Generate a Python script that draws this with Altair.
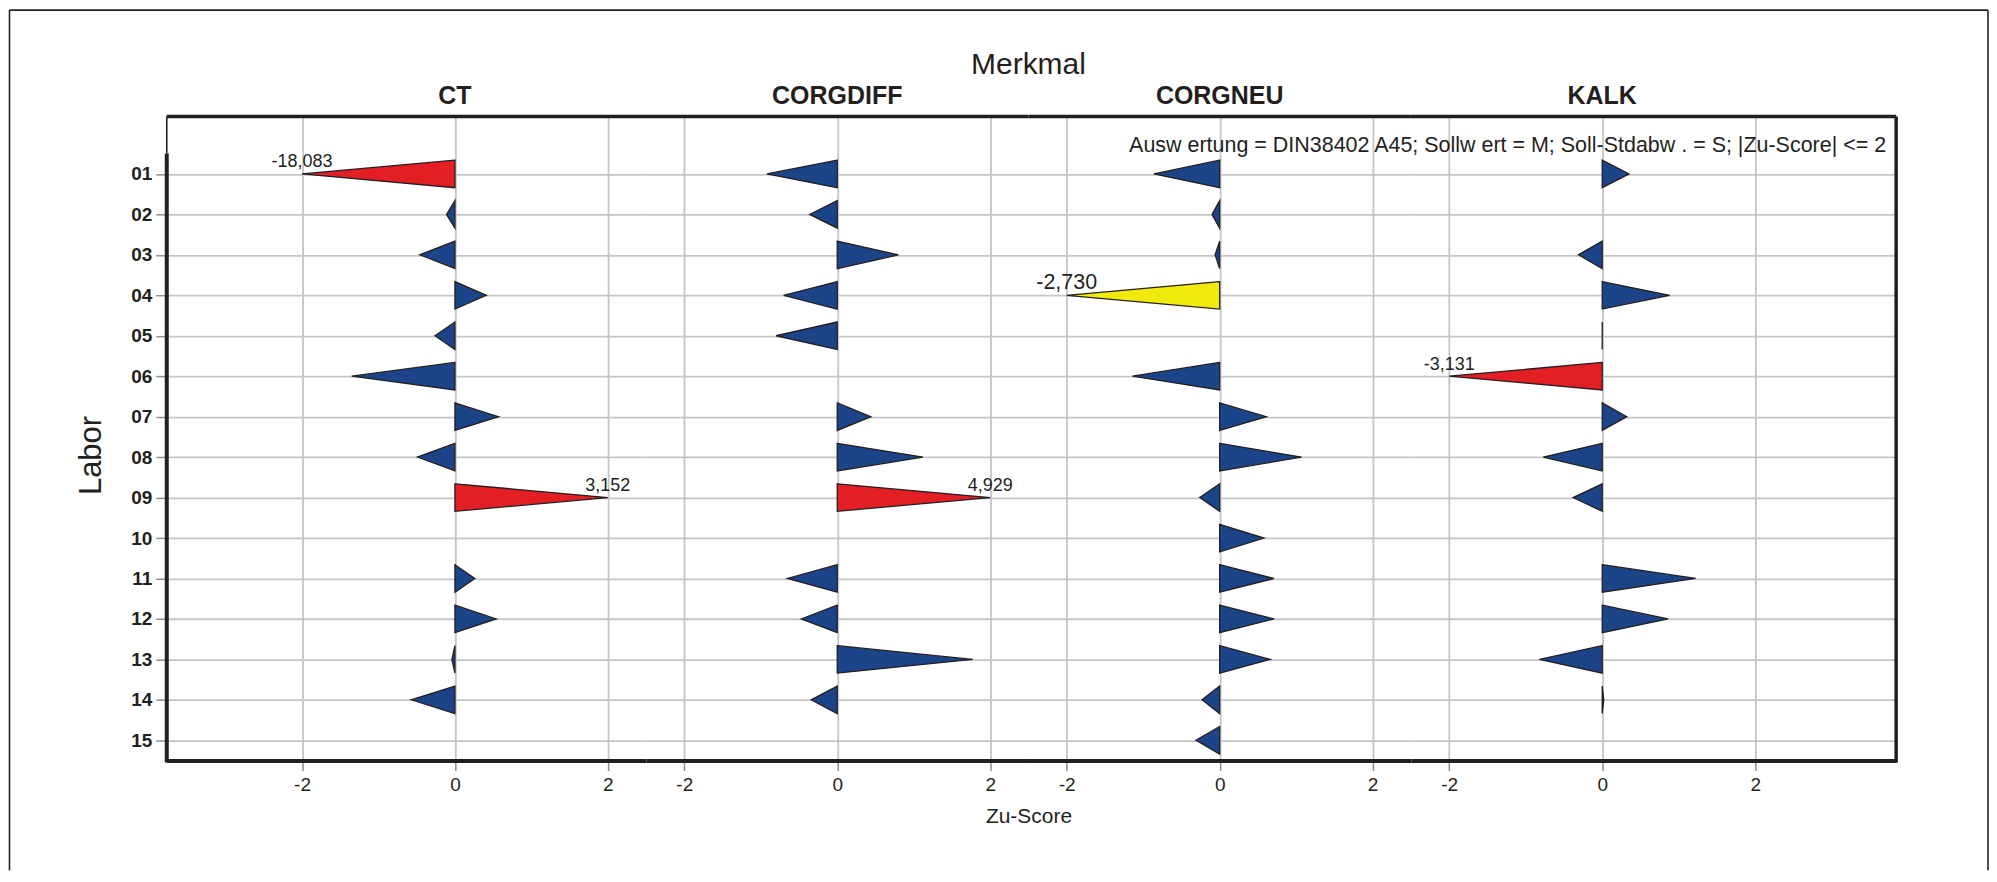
import json
import altair as alt
import pandas as pd

# ---------------- data ----------------
labs = ["01", "02", "03", "04", "05", "06", "07", "08", "09", "10", "11", "12", "13", "14", "15"]
panels = ["CT", "CORGDIFF", "CORGNEU", "KALK"]
ct = [-18.083, -0.11, -0.46, 0.41, -0.26, -1.35, 0.57, -0.49, 3.152, None, 0.26, 0.54, -0.04, -0.57, None]
corgdiff = [-0.92, -0.36, 0.80, -0.70, -0.80, None, 0.44, 1.12, 4.929, None, -0.65, -0.47, 1.77, -0.34, None]
corgneu = [-0.86, -0.10, -0.06, -2.730, None, -1.14, 0.61, 1.07, -0.26, 0.58, 0.71, 0.71, 0.66, -0.23, -0.31]
kalk = [0.35, None, -0.31, 0.88, 0.0, -3.131, 0.32, -0.77, -0.38, None, 1.22, 0.86, -0.82, 0.02, None]
series = {"CT": ct, "CORGDIFF": corgdiff, "CORGNEU": corgneu, "KALK": kalk}

rows = []
for p in panels:
    for i, v in enumerate(series[p]):
        if v is not None:
            rows.append({"panel": p, "row": i + 1, "z": v})
df = pd.DataFrame(rows)

# ---------------- style ----------------
FONT = "Liberation Sans"
DARK = "#231f20"
GRID = "#c5c5c9"
TICK = "#8f8f93"
BLUE, YELLOW, RED = "#1c4489", "#f2ea0c", "#e31e24"
HALF = 0.34
H = 645
widths = {"CT": 480, "CORGDIFF": 383, "CORGNEU": 383, "KALK": 486}
domains = {"CT": [-3.77, 2.5], "CORGDIFF": [-2.5, 2.5], "CORGNEU": [-2.5, 2.5], "KALK": [-2.5, 3.84]}
ydom = [-0.42, 15.5]
label_expr = json.dumps(labs) + "[datum.value - 1]"
one = pd.DataFrame({"a": [0]})


def xaxis(p):
    kw = dict(values=[-2, 0, 2], grid=True, gridColor=GRID, gridWidth=1.8,
              domain=True, domainColor=DARK, domainWidth=4,
              ticks=True, tickColor=TICK, tickSize=10, tickWidth=1.5,
              labelExpr="'' + datum.value", labelFontSize=19, labelColor=DARK,
              labelPadding=5, labelFont=FONT)
    if p == "CORGDIFF":
        kw.update(title="Zu-Score", titleFontSize=21, titleFontWeight="normal",
                  titleColor=DARK, titleX=widths[p], titleY=62, titleAlign="center",
                  titleBaseline="alphabetic", titleFont=FONT)
    else:
        kw.update(title=None)
    return alt.Axis(**kw)


def yaxis(p):
    if p == "CT":
        return alt.Axis(values=list(range(1, 16)), labelExpr=label_expr, grid=True,
                        gridColor=GRID, gridWidth=1.8, domain=False, ticks=True,
                        tickSize=11, tickColor=TICK, tickWidth=1.5, labelFontSize=19,
                        labelFontWeight="bold", labelColor=DARK, labelPadding=4,
                        labelFont=FONT, title="Labor", titleFontSize=31,
                        titleFontWeight="normal", titleColor=DARK, titleX=-66,
                        titleY=339, titleAngle=270, titleAlign="center",
                        titleBaseline="alphabetic", titleFont=FONT)
    return alt.Axis(values=list(range(1, 16)), grid=True, gridColor=GRID, gridWidth=1.8,
                    domain=False, ticks=False, labels=False, title=None)


def make_panel(p):
    W = widths[p]
    xs = alt.Scale(domain=domains[p], nice=False, zero=False)
    ys = alt.Scale(domain=ydom, nice=False, zero=False, reverse=True)
    base = alt.Chart(df).transform_filter(alt.datum.panel == p).transform_calculate(
        cls="abs(datum.z) > 3 ? 'r' : (abs(datum.z) > 2 ? 'g' : 'b')",
        tip="clamp(datum.z, -2, 2)",
    )
    tri = base.transform_calculate(k="[-1, 0, 1]").transform_flatten(["k"]).transform_calculate(
        yy=f"datum.row + datum.k * {HALF}",
        xx="datum.k == 0 ? datum.tip : 0",
        x0="0",
    ).mark_area(orient="horizontal", stroke=DARK, strokeWidth=1.3, strokeJoin="miter",
                opacity=1).encode(
        x=alt.X("xx:Q", scale=xs, axis=xaxis(p), stack=None),
        x2="x0:Q",
        y=alt.Y("yy:Q", scale=ys, axis=yaxis(p)),
        detail="row:N",
        fill=alt.Fill("cls:N", scale=alt.Scale(domain=["b", "g", "r"], range=[BLUE, YELLOW, RED]),
                      legend=None),
    )
    lbl = base.transform_filter("abs(datum.z) > 2").transform_calculate(
        txt="(datum.z < 0 ? '-' : '') + replace(format(abs(datum.z), '.3f'), '.', ',')"
    ).mark_text(align="center", baseline="alphabetic", dy=-6.5, font=FONT, color=DARK).encode(
        x=alt.X("tip:Q", scale=xs),
        y=alt.Y("row:Q", scale=ys),
        text="txt:N",
        size=alt.Size("cls:N", scale=alt.Scale(domain=["r", "g"], range=[18, 21.5]), legend=None),
    )
    ptitle = alt.Chart(one).mark_text(fontSize=25, fontWeight="bold", font=FONT, color=DARK,
                                      align="center", baseline="alphabetic").encode(
        x=alt.X(datum=0, scale=xs), y=alt.value(-13), text=alt.value(p))
    top = alt.Chart(one).mark_rule(color=DARK, strokeWidth=3.5).encode(
        x=alt.value(0), x2=alt.value(W), y=alt.value(0))
    layers = [tri, lbl, ptitle, top]
    if p == "CT":
        layers += [
            alt.Chart(one).mark_rule(color=DARK, strokeWidth=1.6).encode(
                x=alt.value(0), y=alt.value(0), y2=alt.value(37)),
            alt.Chart(one).mark_rule(color=DARK, strokeWidth=4).encode(
                x=alt.value(0), y=alt.value(37), y2=alt.value(H + 2)),
            # outer figure frame
            alt.Chart(one).mark_rule(color=DARK, strokeWidth=1.6).encode(
                x=alt.value(-157.5), y=alt.value(-106.5), y2=alt.value(755)),
            alt.Chart(one).mark_rule(color=DARK, strokeWidth=1.6).encode(
                x=alt.value(-157.5), x2=alt.value(1824), y=alt.value(-106.5)),
            alt.Chart(one).mark_rule(color=DARK, strokeWidth=1.6).encode(
                x=alt.value(1824), y=alt.value(-106.5), y2=alt.value(755)),
        ]
    if p == "CORGDIFF":
        layers.append(alt.Chart(one).mark_text(fontSize=30, font=FONT, color=DARK, align="center",
                                               baseline="alphabetic").encode(
            x=alt.value(W), y=alt.value(-43), text=alt.value("Merkmal")))
    if p == "KALK":
        layers += [
            alt.Chart(one).mark_rule(color=DARK, strokeWidth=3.5).encode(
                x=alt.value(W), y=alt.value(0), y2=alt.value(H + 2)),
            alt.Chart(one).mark_text(fontSize=21.5, font=FONT, color=DARK, align="right",
                                     baseline="alphabetic").encode(
                x=alt.value(W - 10), y=alt.value(36),
                text=alt.value("Ausw ertung = DIN38402 A45; Sollw ert = M; Soll-Stdabw . = S; |Zu-Score| <= 2")),
        ]
    return alt.layer(*layers).properties(width=W, height=H, view=alt.ViewBackground(stroke=None))


chart = alt.hconcat(*[make_panel(p) for p in panels], spacing=0, bounds="flush").configure_view(
    stroke=None
).configure(padding=0, background="white")

chart.save("out.html", embed_options={"renderer": "svg", "actions": False})
